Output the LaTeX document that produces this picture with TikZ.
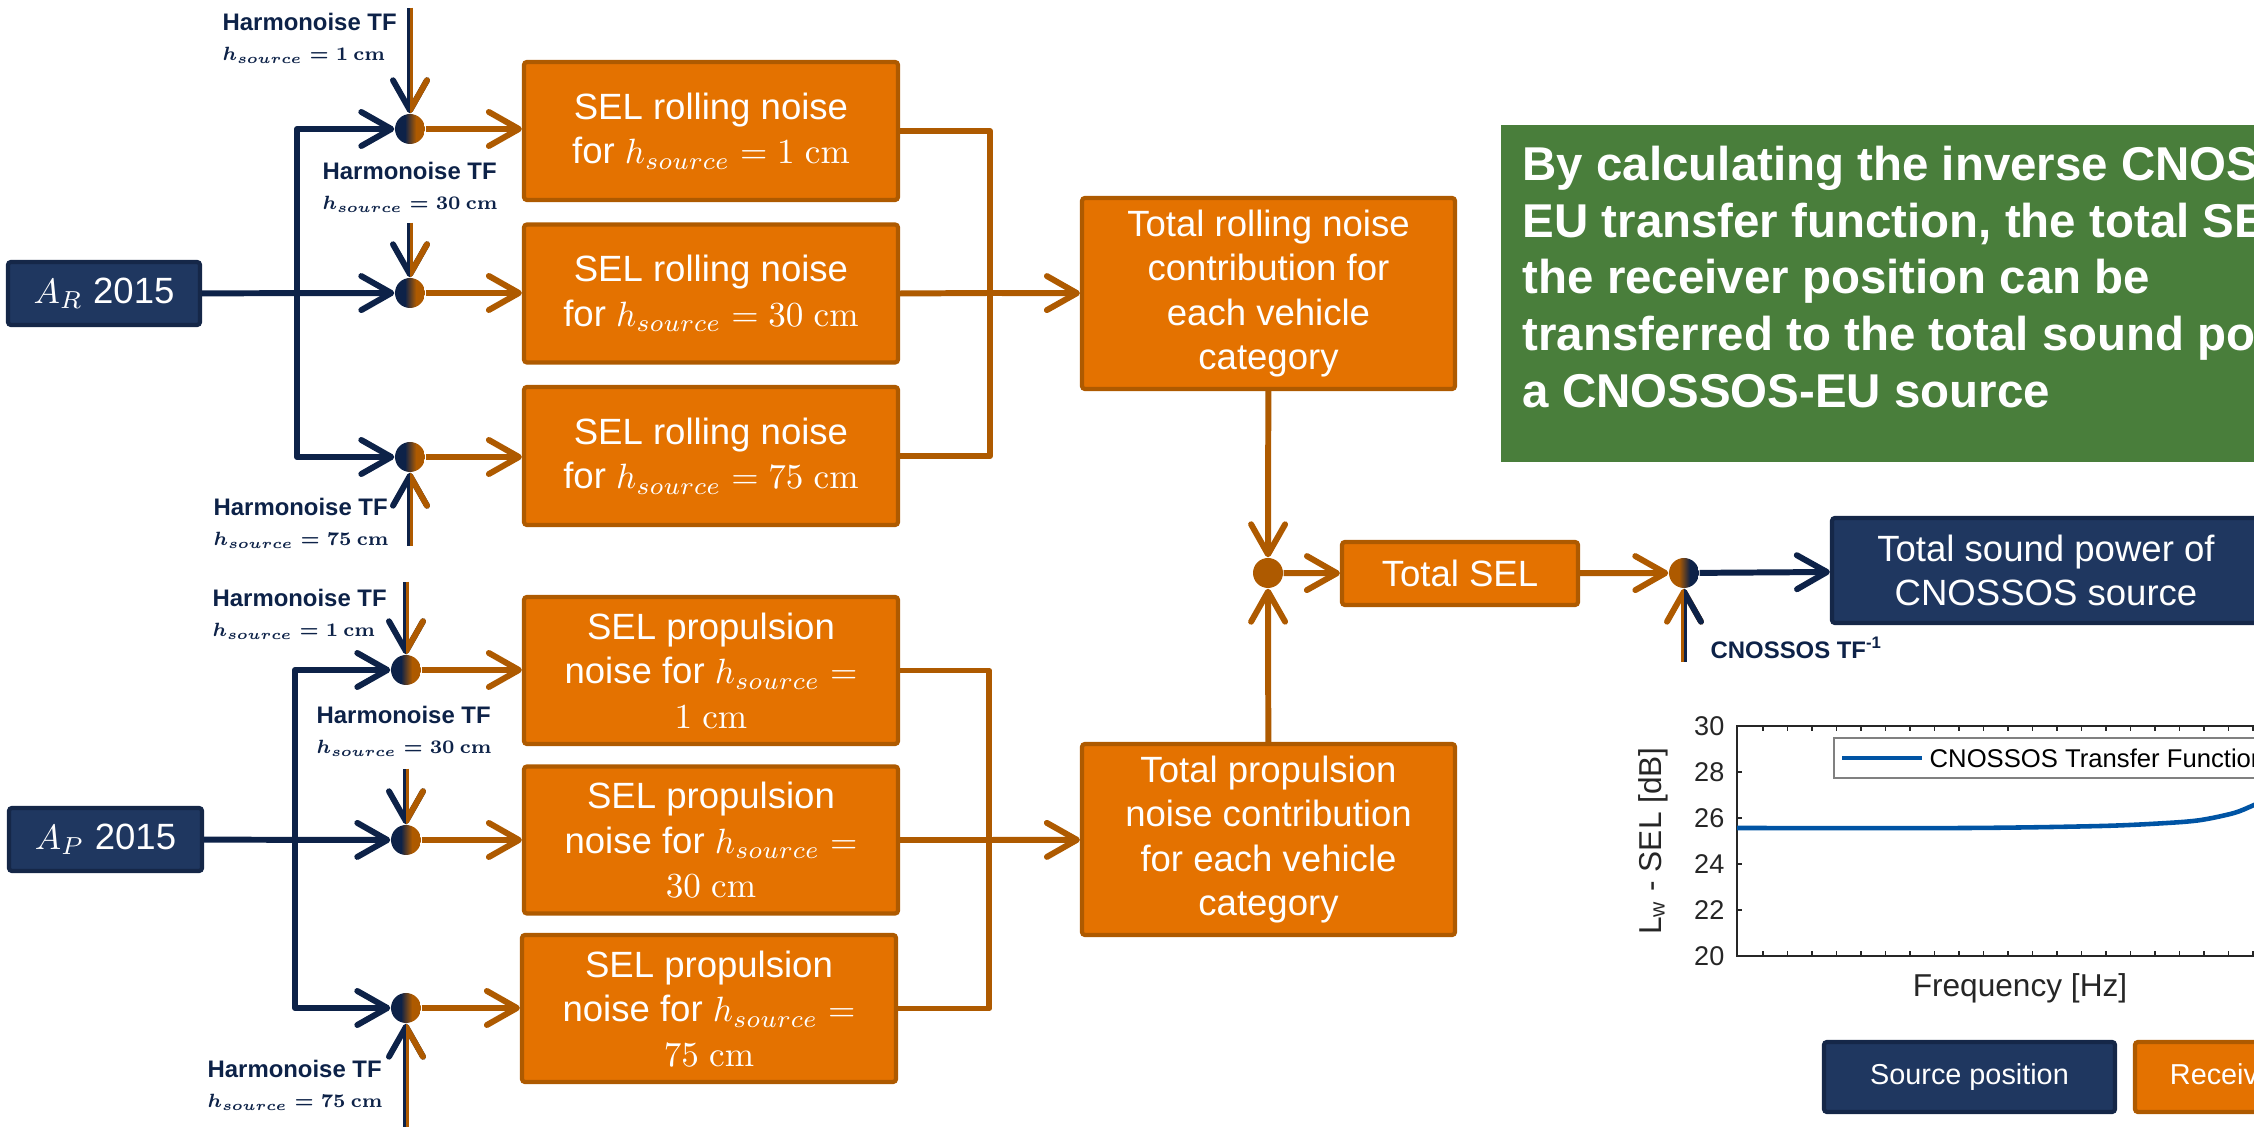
\documentclass[tikz,border=0pt]{standalone}
\usepackage[no-math]{fontspec}
\setmainfont{Liberation Sans}
\usepackage{amsmath}
\usepackage{graphicx}
\usetikzlibrary{arrows.meta, calc, positioning}

\definecolor{navyfill}{RGB}{31,55,96}
\definecolor{navyedge}{RGB}{21,39,72}
\definecolor{navyline}{RGB}{13,34,72}
\definecolor{orangefill}{RGB}{228,114,0}
\definecolor{orangeedge}{RGB}{174,90,0}
\definecolor{greenfill}{RGB}{73,126,59}
\definecolor{plotblue}{RGB}{0,84,164}
\definecolor{axisgray}{RGB}{38,38,38}

\tikzset{
  navybox/.style={draw=navyedge, fill=navyfill, line width=1.2pt, rounded corners=0.3mm, text=white, align=center, inner sep=0pt},
  orangebox/.style={draw=orangeedge, fill=orangefill, line width=1.2pt, rounded corners=0.3mm, text=white, align=center, inner sep=0pt},
  boxfont/.style={font=\fontsize{10.4}{12.6}\selectfont},
  tflabel/.style={text=navyline, align=left, inner sep=0pt, font=\fontsize{6.8}{8.6}\selectfont\bfseries\boldmath},
  mixer/.style 2 args={circle, minimum size=3mm, inner sep=0pt,
    path picture={
      \fill[#1] (path picture bounding box.south west) rectangle ([xshift=-0.5mm]path picture bounding box.north);
      \fill[#2] ([xshift=0.6mm]path picture bounding box.south) rectangle (path picture bounding box.north east);
      \shade[left color=#1, right color=#2] ([xshift=-0.5mm]path picture bounding box.south) rectangle ([xshift=0.6mm]path picture bounding box.north);
    }},
  arrowbase/.style={line width=1.7pt, line join=round, -{Straight Barb[length=3mm,width=3.4mm,round]}},
  navyarrow/.style={arrowbase, draw=navyline},
  orangearrow/.style={arrowbase, draw=orangeedge},
  orangeline/.style={draw=orangeedge, line width=1.7pt, line join=round},
}

% arrow whose left half and right half have different colours
\newcommand{\splitarrow}[4]{%
  \draw[arrowbase, draw=#3] (#1) -- (#2);
  \begin{scope}
    \clip (#2.center) rectangle ([xshift=4mm]#1);
    \draw[arrowbase, draw=#4] (#1) -- (#2);
  \end{scope}}
% source height line of the labels
\newcommand{\hsrc}[1]{\scalebox{0.78}{$h_{source} = #1\ \mathrm{cm}$}}

\begin{document}
\begin{tikzpicture}[x=1mm, y=-1mm]
    \useasboundingbox (0,0) rectangle (225.4,112.7);
    \clip (0,0) rectangle (225.4,112.7);

    % Inputs
    \node[navybox, boxfont, minimum width=19.2mm, minimum height=6.3mm] (AR) at (10.4,29.35) {$A_R$ 2015};
    \node[navybox, boxfont, minimum width=19.3mm, minimum height=6.3mm] (AP) at (10.55,83.95) {$A_P$ 2015};

    % Harmonoise mixers
    \foreach \n/\x/\y in {m1/41.0/12.9, m2/41.0/29.3, m3/41.0/45.7, m4/40.6/67.0, m5/40.6/84.0, m6/40.6/100.8}
        \node[mixer={navyline}{orangeedge}] (\n) at (\x,\y) {};

    \coordinate (tf1) at (41.0,0.8);
    \coordinate (tf2) at (41.0,22.3);
    \coordinate (tf3) at (41.0,54.6);
    \coordinate (tf4) at (40.6,58.2);
    \coordinate (tf5) at (40.6,76.9);
    \coordinate (tf6) at (40.6,112.7);
    \foreach \i in {1,...,6}
        \splitarrow{tf\i}{m\i}{navyline}{orangeedge};

    \node[tflabel, anchor=west] (lab1) at (22.2,3.8) {Harmonoise TF\\\hsrc{1}};
    \node[tflabel, anchor=west] (lab2) at (32.2,18.75) {Harmonoise TF\\\hsrc{30}};
    \node[tflabel, anchor=west] (lab3) at (21.3,52.3) {Harmonoise TF\\\hsrc{75}};
    \node[tflabel, anchor=west] (lab4) at (21.2,61.45) {Harmonoise TF\\\hsrc{1}};
    \node[tflabel, anchor=west] (lab5) at (31.6,73.15) {Harmonoise TF\\\hsrc{30}};
    \node[tflabel, anchor=west] (lab6) at (20.7,108.55) {Harmonoise TF\\\hsrc{75}};

    % Source branches
    \coordinate (busR) at (29.7,29.3);
    \coordinate (busP) at (29.5,84.0);
    \draw[navyarrow] (AR) -- (m2);
    \draw[navyarrow] (busR) |- (m1);
    \draw[navyarrow] (busR) |- (m3);
    \draw[navyarrow] (AP) -- (m5);
    \draw[navyarrow] (busP) |- (m4);
    \draw[navyarrow] (busP) |- (m6);

    % SEL per source height
    \node[orangebox, boxfont, minimum width=37.4mm, minimum height=13.8mm] (r1) at (71.1,13.1) {SEL rolling noise\\for $h_{source} = 1\ \mathrm{cm}$};
    \node[orangebox, boxfont, minimum width=37.4mm, minimum height=13.8mm] (r2) at (71.1,29.35) {SEL rolling noise\\for $h_{source} = 30\ \mathrm{cm}$};
    \node[orangebox, boxfont, minimum width=37.4mm, minimum height=13.8mm] (r3) at (71.1,45.6) {SEL rolling noise\\for $h_{source} = 75\ \mathrm{cm}$};
    \node[orangebox, boxfont, minimum width=37.4mm, minimum height=14.7mm] (p1) at (71.1,67.05) {SEL propulsion\\noise for $h_{source} =$\\$1\ \mathrm{cm}$};
    \node[orangebox, boxfont, minimum width=37.4mm, minimum height=14.7mm] (p2) at (71.1,84.0) {SEL propulsion\\noise for $h_{source} =$\\$30\ \mathrm{cm}$};
    \node[orangebox, boxfont, minimum width=37.4mm, minimum height=14.7mm] (p3) at (70.9,100.85) {SEL propulsion\\noise for $h_{source} =$\\$75\ \mathrm{cm}$};

    \foreach \m/\r in {m1/r1, m2/r2, m3/r3, m4/p1, m5/p2, m6/p3}
        \draw[orangearrow] (\m) -- (\m -| \r.west);

    % Totals per category
    \node[orangebox, boxfont, minimum width=37.3mm, minimum height=19.1mm] (totroll) at (126.85,29.35) {Total rolling noise\\contribution for\\each vehicle\\category};
    \node[orangebox, boxfont, minimum width=37.3mm, minimum height=19.1mm] (totprop) at (126.85,83.95) {Total propulsion\\noise contribution\\for each vehicle\\category};

    \coordinate (colR) at (99.0,29.3);
    \coordinate (colP) at (98.9,84.0);
    \draw[orangeline] (r1.east) -| (colR) |- (r3.east);
    \draw[orangeline] (r2.east) -- (colR);
    \draw[orangearrow] (colR) -- (totroll);
    \draw[orangeline] (p1.east) -| (colP) |- (p3.east);
    \draw[orangeline] (p2.east) -- (colP);
    \draw[orangearrow] (colP) -- (totprop);

    % Total SEL and inverse transfer function
    \node[circle, fill=orangeedge, minimum size=3mm, inner sep=0pt] (sum) at (126.8,57.3) {};
    \node[orangebox, boxfont, minimum width=23.6mm, minimum height=6.3mm] (totsel) at (146.0,57.35) {Total SEL};
    \node[mixer={orangeedge}{navyline}] (inv) at (168.4,57.3) {};
    \node[navybox, boxfont, minimum width=42.8mm, minimum height=10.5mm] (power) at (204.6,57.05) {Total sound power of\\CNOSSOS source};
    \coordinate (tfinv) at (168.4,66.2);

    \draw[orangearrow] (totroll) -- (sum);
    \draw[orangearrow] (totprop) -- (sum);
    \draw[orangearrow] (sum) -- (totsel);
    \draw[orangearrow] (totsel) -- (inv);
    \splitarrow{tfinv}{inv}{orangeedge}{navyline};
    \draw[navyarrow] (inv) -- (power);
    \node[tflabel, anchor=west] (labinv) at (171.0,64.8) {CNOSSOS TF\textsuperscript{-1}};

    % Note
    \fill[greenfill] (150.1,12.5) rectangle (240,46.2);
    \node[anchor=north west, align=left, inner sep=0pt, text=white, font=\fontsize{13.5}{16.2}\selectfont\bfseries] (note) at (152.2,14.5)
        {By calculating the inverse CNOSSOS-\\EU transfer function, the total SEL at\\the receiver position can be\\transferred to the total sound power of\\a CNOSSOS-EU source};

    % Transfer function plot
    \draw[axisgray, line width=0.5pt] (173.7,72.6) rectangle (240,95.6);
    \foreach \v in {20,22,...,30} {
        \draw[axisgray, line width=0.5pt] (173.7,{95.6-(\v-20)*2.3}) -- ++(0.5,0);
        \node[anchor=east, inner sep=0pt, text=axisgray, font=\fontsize{7.7}{9}\selectfont] (yt\v) at (172.5,{95.6-(\v-20)*2.3}) {\v};
    }
    \foreach \k in {0,...,20} {
        \draw[axisgray, line width=0.5pt] ({176.3+2.45*\k},95.6) -- ++(0,-0.5);
        \draw[axisgray, line width=0.5pt] ({176.3+2.45*\k},72.6) -- ++(0,0.5);
    }
    \draw[plotblue, line width=1.3pt] plot[smooth] coordinates {(173.7,82.8) (196.7,82.8) (210.1,82.6) (216.7,82.3) (220.1,82.0) (223.4,81.3) (225.4,80.5) (228,79.3)};
    \draw[gray, line width=0.4pt, fill=white] (183.4,73.8) rectangle (245,77.8);
    \draw[plotblue, line width=1.3pt] (184.2,75.8) -- (192.2,75.8);
    \node[anchor=west, inner sep=0pt, font=\fontsize{7.3}{9}\selectfont] (legtxt) at (192.9,75.8) {CNOSSOS Transfer Function};
    \node[rotate=90, inner sep=0pt, text=axisgray, font=\fontsize{9}{10}\selectfont] (ylab) at (165.3,84.1) {L\textsubscript{w} - SEL [dB]};
    \node[inner sep=0pt, text=axisgray, font=\fontsize{9}{10}\selectfont] (xlab) at (202.0,98.8) {Frequency [Hz]};

    % Colour key
    \node[navybox, font=\fontsize{8.2}{10}\selectfont, minimum width=29.1mm, minimum height=7mm] (keysrc) at (196.95,107.7) {Source position};
    \node[orangebox, font=\fontsize{8.2}{10}\selectfont, minimum width=29.1mm, minimum height=7mm] (keyrec) at (228.05,107.7) {Receiver position};
\end{tikzpicture}
\end{document}
